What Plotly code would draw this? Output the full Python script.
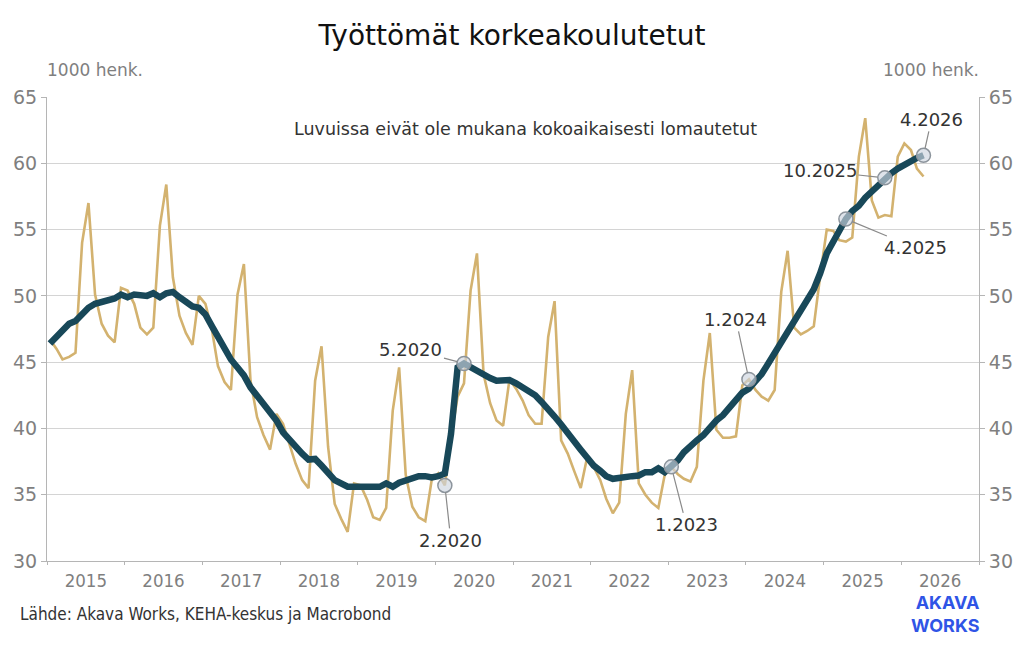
import pandas as pd
import plotly.graph_objects as go

# ---------------- data ----------------
start_month = "2015-01-01"
monthly = [
    46.7, 46.0, 45.2, 45.4, 45.7, 54.0, 57.0, 50.1, 47.9, 47.0, 46.5, 50.6,   # 2015
    50.4, 49.4, 47.6, 47.1, 47.6, 55.3, 58.4, 51.4, 48.5, 47.2, 46.3, 50.0,   # 2016
    49.4, 47.4, 44.7, 43.5, 42.9, 50.1, 52.4, 43.6, 40.85, 39.5, 38.4, 41.1,  # 2017
    40.35, 38.85, 37.35, 36.1, 35.5, 43.6, 46.2, 38.6, 34.3, 33.2, 32.2, 35.85,  # 2018
    35.7, 34.6, 33.3, 33.1, 34.0, 41.35, 44.6, 36.5, 34.1, 33.3, 33.0, 36.1,  # 2019
    36.6, 35.7, 39.3, 42.4, 43.4, 50.4, 53.2, 44.1, 41.9, 40.6, 40.2, 43.7,   # 2020
    43.0, 42.1, 41.0, 40.35, 40.35, 46.9, 49.6, 39.1, 38.1, 36.8, 35.5, 37.8,  # 2021
    37.1, 36.1, 34.7, 33.6, 34.4, 41.1, 44.4, 35.85, 35.0, 34.4, 34.0, 36.5,  # 2022
    37.1, 36.55, 36.2, 36.0, 37.1, 43.6, 47.2, 39.9, 39.3, 39.3, 39.4, 43.25,  # 2023
    43.7, 42.9, 42.4, 42.1, 42.9, 50.3, 53.4, 47.6, 47.1, 47.35, 47.7, 51.5,  # 2024
    55.0, 54.9, 54.2, 54.1, 54.4, 60.5, 63.4, 57.2, 55.9, 56.1, 56.0, 60.5,   # 2025
    61.5, 61.0, 59.6, 59.0,                                                   # 2026
]
trend = [
    46.4, 46.9, 47.4, 47.9, 48.1, 48.7, 49.1, 49.4, 49.5, 49.6, 49.8, 50.1,
    49.9, 50.1, 50.0, 50.0, 50.2, 49.9, 50.2, 50.3, 49.9, 49.5, 49.2, 49.1,
    48.6, 47.7, 46.9, 46.0, 45.2, 44.6, 44.0, 43.1, 42.5, 41.9, 41.35, 40.6,
    39.7, 39.1, 38.6, 38.1, 37.65, 37.7, 37.2, 36.6, 36.1, 35.85, 35.6, 35.6,
    35.6, 35.5, 35.5, 35.6, 35.85, 35.6, 35.9, 36.1, 36.3, 36.4, 36.4, 36.3,
    36.4, 36.6, 39.6, 44.6, 44.9, 44.6, 44.3, 44.0, 43.8, 43.6, 43.6, 43.65,
    43.4, 43.1, 42.8, 42.5, 42.0, 41.5, 40.9, 40.3, 39.6, 39.0, 38.4, 37.8,
    37.2, 36.8, 36.4, 36.2, 36.3, 36.3, 36.4, 36.45, 36.7, 36.7, 37.0, 36.7,
    37.1, 37.6, 38.2, 38.7, 39.1, 39.5, 40.1, 40.6, 41.0, 41.6, 42.2, 42.7,
    43.0, 43.5, 44.1, 44.9, 45.7, 46.5, 47.2, 48.1, 48.9, 49.6, 50.5, 51.7,
    53.2, 54.1, 55.0, 55.8, 56.4, 56.8, 57.4, 57.9, 58.4, 58.9, 59.25, 59.6,
    59.9, 60.2, 60.4, 60.6,
]
marker_labels = ["2.2020", "5.2020", "1.2023", "1.2024", "4.2025", "10.2025", "4.2026"]
marker_series = ["monthly", "trend", "trend", "monthly", "trend", "trend", "trend"]
y_ticks = [30, 35, 40, 45, 50, 55, 60, 65]

title_text = "Työttömät korkeakoulutetut"
unit_text = "1000 henk."
note_text = "Luvuissa eivät ole mukana kokoaikaisesti lomautetut"
source_text = "Lähde: Akava Works, KEHA-keskus ja Macrobond"
logo_lines = ["AKAVA", "WORKS"]

# ---------------- build ----------------
dates = pd.date_range(start_month, periods=len(monthly), freq="MS") + pd.Timedelta(days=14)
series = {"monthly": monthly, "trend": trend}

TAN = "#d3b26f"
DARK = "#184859"
GRID = "#d4d4d4"
AXIS = "#b5b5b5"
TICKC = "#7f7f7f"
TXT = "#333333"
NARROW = "Liberation Sans Narrow, Arial Narrow, DejaVu Sans Condensed, sans-serif"
SANS = "DejaVu Sans, Verdana, sans-serif"

fig = go.Figure()
fig.add_trace(go.Scatter(x=dates, y=monthly, mode="lines",
                         line=dict(color=TAN, width=2.6), hoverinfo="skip", showlegend=False))
fig.add_trace(go.Scatter(x=dates, y=trend, mode="lines",
                         line=dict(color=DARK, width=6.5), hoverinfo="skip", showlegend=False))

# markers at annotated months
def month_index(label):
    m, y = label.split(".")
    return (int(y) - 2015) * 12 + int(m) - 1

mx = [dates[month_index(l)] for l in marker_labels]
my = [series[s][month_index(l)] for l, s in zip(marker_labels, marker_series)]
fig.add_trace(go.Scatter(x=mx, y=my, mode="markers", yaxis="y2",
                         marker=dict(size=14, color="rgba(205,212,222,0.65)",
                                     line=dict(color="#8c949c", width=1.5)),
                         hoverinfo="skip", showlegend=False))

# label offsets (pixels) for each marker label
offsets = {
    "2.2020": (6, 55),
    "5.2020": (-53, -14),
    "1.2023": (15, 58),
    "1.2024": (-13, -60),
    "4.2025": (70, 29),
    "10.2025": (-65, -7),
    "4.2026": (8, -36),
}
for x, y, lab in zip(mx, my, marker_labels):
    ax, ay = offsets[lab]
    fig.add_annotation(x=x, y=y, xref="x", yref="y", text=lab, showarrow=True,
                       arrowhead=0, arrowwidth=1.2, arrowcolor="#8a8a8a",
                       ax=ax, ay=ay, standoff=7,
                       font=dict(family=SANS, size=18, color=TXT))

L, R, T, B = 47, 45, 97, 85
W, H = 1024, 646
pw, ph = W - L - R, H - T - B

def px(xp):
    return (xp - L) / pw

def py(yp):
    return (H - B - yp) / ph

fig.add_annotation(xref="paper", yref="paper", x=px(45), y=py(70), text=unit_text,
                   showarrow=False, xanchor="left", yanchor="middle",
                   font=dict(family=SANS, size=17, color=TICKC))
fig.add_annotation(xref="paper", yref="paper", x=px(981), y=py(70), text=unit_text,
                   showarrow=False, xanchor="right", yanchor="middle",
                   font=dict(family=SANS, size=17, color=TICKC))
fig.add_annotation(xref="paper", yref="paper", x=px(525), y=py(129), text=note_text,
                   showarrow=False, xanchor="center", yanchor="middle",
                   font=dict(family=SANS, size=17.5, color=TXT))
fig.add_annotation(xref="paper", yref="paper", x=px(18), y=py(614), text=source_text,
                   showarrow=False, xanchor="left", yanchor="middle",
                   font=dict(family=NARROW, size=17, color=TXT))
fig.add_annotation(xref="paper", yref="paper", x=px(982), y=py(614),
                   text="<b>" + "<br>".join(logo_lines) + "</b>",
                   showarrow=False, xanchor="right", yanchor="middle", align="right",
                   font=dict(family="Inter, Roboto, sans-serif", size=18, color="#2f54e6"))

fig.update_layout(
    width=W, height=H,
    margin=dict(l=L, r=R, t=T, b=B),
    paper_bgcolor="white", plot_bgcolor="white",
    title=dict(text=title_text, x=0.5, xanchor="center", y=1 - 35 / H, yanchor="middle",
               font=dict(family=SANS, size=28, color="#111111")),
    xaxis=dict(type="date", range=["2015-01-01", "2027-01-01"],
               tick0="2015-01-01", dtick="M12", tickformat="%Y", ticklabelmode="period",
               ticks="outside", ticklen=3, tickcolor=AXIS, showline=True, linecolor=AXIS,
               showgrid=False, zeroline=False,
               tickfont=dict(family=NARROW, size=18.5, color=TICKC)),
    yaxis=dict(range=[30, 65], tickvals=y_ticks, ticks="outside", ticklen=5, tickcolor=AXIS,
               showline=True, linecolor=AXIS, gridcolor=GRID, gridwidth=1, zeroline=False,
               tickfont=dict(family=SANS, size=19, color=TICKC)),
    yaxis2=dict(range=[30, 65], tickvals=y_ticks, overlaying="y", side="right",
                ticks="outside", ticklen=5, tickcolor=AXIS, showline=True, linecolor=AXIS,
                showgrid=False, zeroline=False,
                tickfont=dict(family=SANS, size=19, color=TICKC)),
)

fig.write_html("out.html")
